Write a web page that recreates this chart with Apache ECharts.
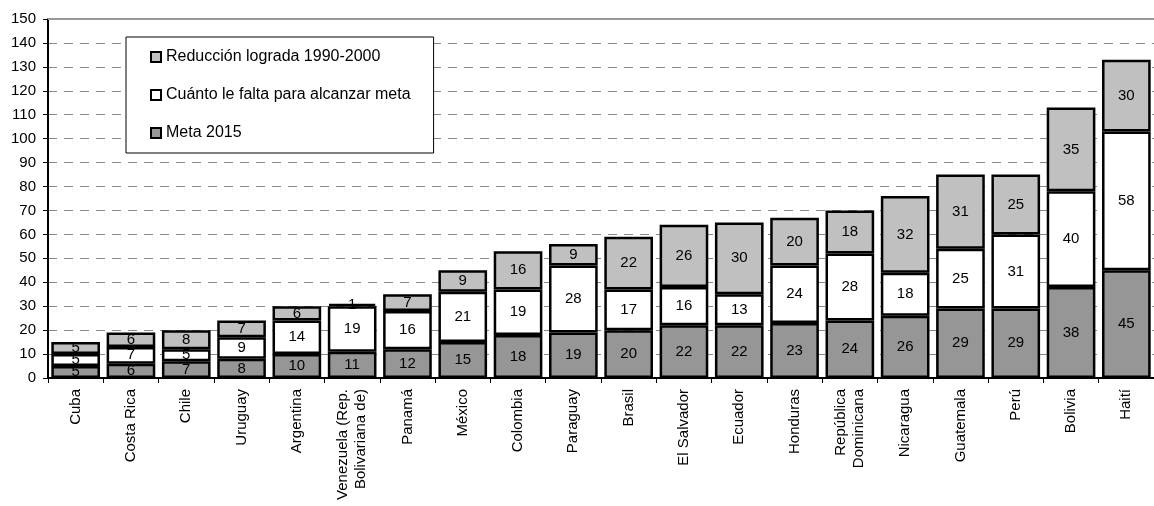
<!DOCTYPE html>
<html lang="es">
<head>
	<meta charset="UTF-8">
	<title>Meta 2015</title>
	<script src="https://cdn.jsdelivr.net/npm/echarts@6/dist/echarts.min.js"></script>
	<style>
		html, body { margin: 0; padding: 0; background: #fff; }
	</style>
</head>
<body>
	<div id="main" style="width: 1154px; height: 506px;"></div>
	<script type="text/javascript">
	var paises = ['Cuba', 'Costa Rica', 'Chile', 'Uruguay', 'Argentina',
		'Venezuela (Rep.\nBolivariana de)', 'Panamá', 'México', 'Colombia', 'Paraguay',
		'Brasil', 'El Salvador', 'Ecuador', 'Honduras', 'República\nDominicana',
		'Nicaragua', 'Guatemala', 'Perú', 'Bolivia', 'Haití'];
	var meta2015 = [5, 6, 7, 8, 10, 11, 12, 15, 18, 19, 20, 22, 22, 23, 24, 26, 29, 29, 38, 45];
	var falta = [5, 7, 5, 9, 14, 19, 16, 21, 19, 28, 17, 16, 13, 24, 28, 18, 25, 31, 40, 58];
	var reduccion = [5, 6, 8, 7, 6, 1, 7, 9, 16, 9, 22, 26, 30, 20, 18, 32, 31, 25, 35, 30];

	var fuente = '"Liberation Sans", Arial, sans-serif';

	function serie(nombre, datos, color) {
		return {
			name: nombre,
			type: 'bar',
			stack: 'total',
			barCategoryGap: '12%',
			data: datos,
			itemStyle: { color: color, borderColor: '#000', borderWidth: 2.5 },
			label: {
				show: true,
				position: 'inside',
				color: '#000',
				fontSize: 15,
				fontFamily: fuente
			}
		};
	}

	var chart = echarts.init(document.getElementById('main'));
	chart.setOption({
		animation: false,
		grid: { left: 48, top: 19, bottom: 128, right: -15 },
		legend: {
			orient: 'vertical',
			left: 126,
			top: 37,
			padding: [11, 23, 11, 24],
			itemGap: 20,
			itemWidth: 10,
			itemHeight: 10,
			icon: 'rect',
			backgroundColor: '#fff',
			borderColor: '#000',
			borderWidth: 1,
			textStyle: { fontSize: 16, fontFamily: fuente, color: '#000', lineHeight: 18 },
			data: ['Reducción lograda 1990-2000', 'Cuánto le falta para alcanzar meta', 'Meta 2015']
		},
		xAxis: [{
			type: 'category',
			data: paises,
			axisLine: { lineStyle: { color: '#000', width: 2 } },
			axisTick: { show: true, length: 5, lineStyle: { color: '#000', width: 1 } },
			axisLabel: {
				rotate: 90,
				margin: 11,
				interval: 0,
				fontSize: 15,
				fontFamily: fuente,
				color: '#000',
				lineHeight: 18
			}
		}, {
			type: 'category',
			position: 'top',
			data: paises,
			axisLine: { lineStyle: { color: '#999', width: 2 } },
			axisTick: { show: false },
			axisLabel: { show: false }
		}],
		yAxis: {
			type: 'value',
			min: 0,
			max: 150,
			interval: 10,
			axisLine: { show: true, lineStyle: { color: '#000', width: 2 } },
			axisTick: { show: true, length: 5, lineStyle: { color: '#000' } },
			axisLabel: { fontSize: 15, fontFamily: fuente, color: '#000', margin: 12 },
			splitLine: { lineStyle: { color: '#888', width: 1, type: [9, 7] } }
		},
		series: [
			serie('Meta 2015', meta2015, '#969696'),
			serie('Cuánto le falta para alcanzar meta', falta, '#ffffff'),
			serie('Reducción lograda 1990-2000', reduccion, '#c0c0c0')
		]
	});
	</script>
</body>
</html>
